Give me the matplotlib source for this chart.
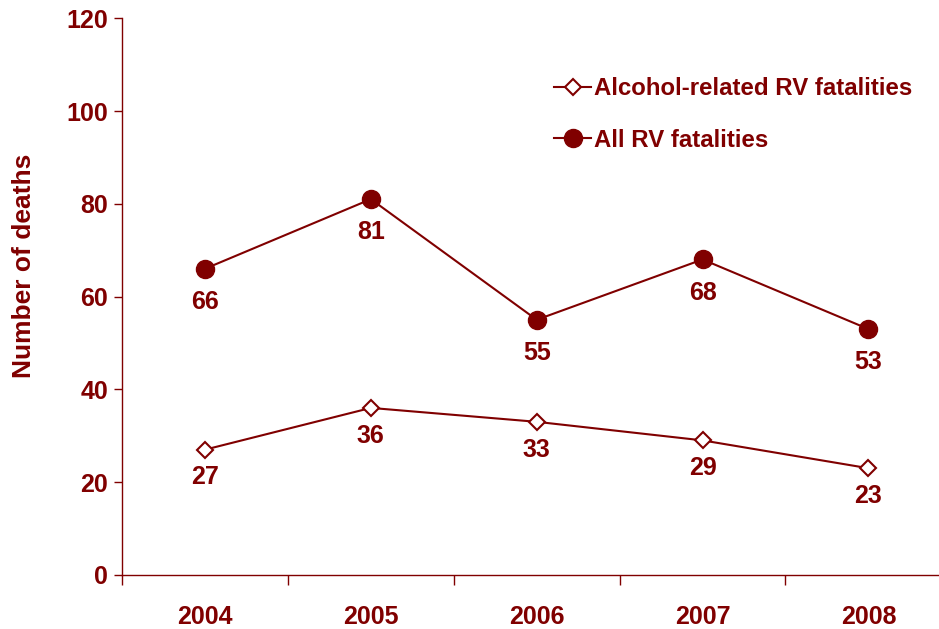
import matplotlib
matplotlib.use("Agg")
import matplotlib.pyplot as plt

years = ["2004", "2005", "2006", "2007", "2008"]
alcohol = [27, 36, 33, 29, 23]
all_rv = [66, 81, 55, 68, 53]

red = "#800000"
plt.rcParams['font.family'] = ['Liberation Sans', 'DejaVu Sans']
plt.rcParams['font.weight'] = 'bold'

fig = plt.figure(figsize=(9.39, 6.29), dpi=100)
ax = fig.add_axes([0.130, 0.086, 0.869, 0.885])
x = list(range(len(years)))

ax.plot(x, alcohol, color=red, lw=1.5, marker='D', ms=8, mfc='white', mec=red, mew=1.5,
        label="Alcohol-related RV fatalities")
ax.plot(x, all_rv, color=red, lw=1.5, marker='o', ms=13, mfc=red, mec=red,
        label="All RV fatalities")

for xi, v in zip(x, alcohol):
    ax.annotate(str(v), (xi, v), xytext=(0, -20), textcoords='offset points',
                ha='center', va='center', color=red, fontsize=18, fontweight='bold')
for xi, v in zip(x, all_rv):
    ax.annotate(str(v), (xi, v), xytext=(0, -24), textcoords='offset points',
                ha='center', va='center', color=red, fontsize=18, fontweight='bold')

ax.set_yticks(range(0, 121, 20))
ax.set_xticks(x)
ax.set_xticklabels(years)
ax.set_xticks([i + 0.5 for i in range(-1, 4)], minor=True)
ax.set_ylim(0, 120)
ax.set_xlim(-0.5, 4.42)
ax.tick_params(axis='x', which='major', length=0, pad=22, labelsize=18, labelcolor=red)
ax.tick_params(axis='x', which='minor', length=7, width=1, color=red)
ax.tick_params(axis='y', length=6, width=1, color=red, labelsize=18, labelcolor=red, pad=4)
for lab in ax.get_xticklabels() + ax.get_yticklabels():
    lab.set_fontweight('bold')

for s in ['top', 'right']:
    ax.spines[s].set_visible(False)
for s in ['left', 'bottom']:
    ax.spines[s].set_color(red)
    ax.spines[s].set_linewidth(1)

ax.set_ylabel("Number of deaths", color=red, fontsize=19, fontweight='bold')
ax.yaxis.set_label_coords(-0.105, 0.555)

leg = ax.legend(loc='upper left', bbox_to_anchor=(0.567, 0.912), bbox_transform=fig.transFigure,
                frameon=False, handlelength=1.55, handletextpad=0.1,
                labelspacing=1.2, prop={'weight': 'bold', 'size': 17.3})
for t in leg.get_texts():
    t.set_color(red)

fig.savefig("out.png", dpi=100)
